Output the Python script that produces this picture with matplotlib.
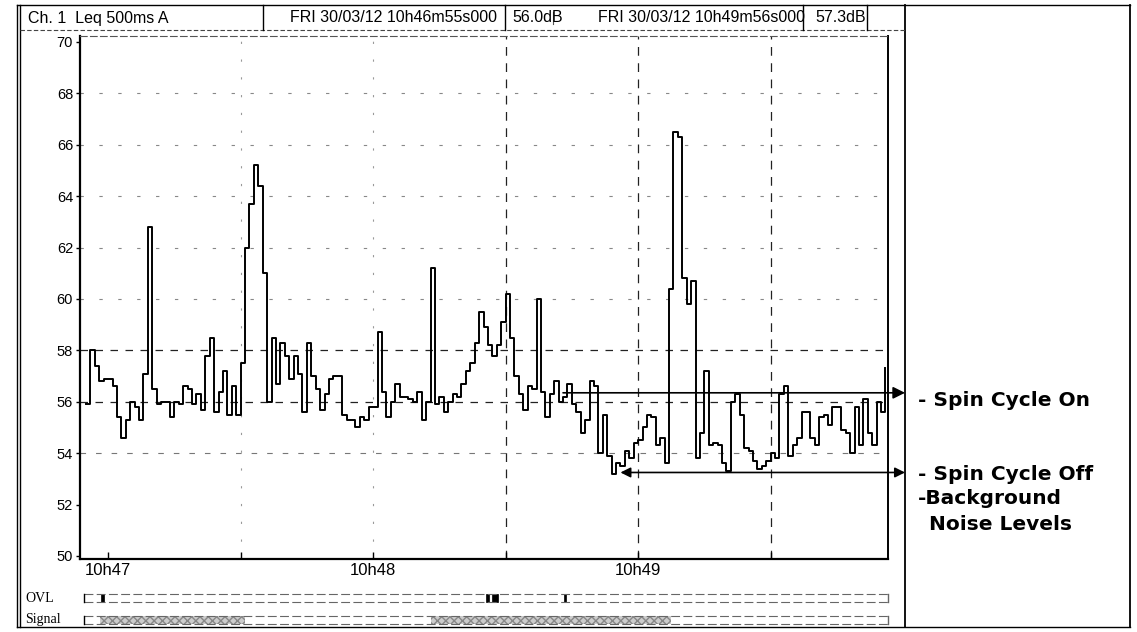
import matplotlib
matplotlib.use("Agg")
import matplotlib.pyplot as plt
from matplotlib.patches import Rectangle
from matplotlib.lines import Line2D
import numpy as np

# ---------------- data ----------------
# Leq 500ms A levels (dB), one value per second starting 10h46m55s
levels_db = [
    55.9, 58.0, 57.4, 56.8, 56.9, 56.9, 56.6, 55.4, 54.6, 55.3,
    56.0, 55.8, 55.3, 57.1, 62.8, 56.5, 55.9, 56.0, 56.0, 55.4,
    56.0, 55.9, 56.6, 56.5, 55.9, 56.3, 55.7, 57.8, 58.5, 55.6,
    56.4, 57.2, 55.5, 56.6, 55.5, 57.5, 62.0, 63.7, 65.2, 64.4,
    61.0, 56.0, 58.5, 56.7, 58.3, 57.8, 56.9, 57.8, 57.1, 55.6,
    58.3, 57.0, 56.5, 55.7, 56.3, 56.9, 57.0, 57.0, 55.5, 55.3,
    55.3, 55.0, 55.4, 55.3, 55.8, 55.8, 58.7, 56.4, 55.4, 56.0,
    56.7, 56.2, 56.2, 56.1, 56.0, 56.4, 55.3, 56.0, 61.2, 55.9,
    56.2, 55.6, 56.0, 56.3, 56.2, 56.7, 57.2, 57.5, 58.3, 59.5,
    58.9, 58.2, 57.8, 58.2, 59.1, 60.2, 58.5, 57.0, 56.3, 55.7,
    56.6, 56.5, 60.0, 56.4, 55.4, 56.3, 56.8, 56.0, 56.2, 56.7,
    55.9, 55.6, 54.8, 55.3, 56.8, 56.6, 54.0, 55.5, 53.9, 53.2,
    53.6, 53.5, 54.1, 53.8, 54.4, 54.5, 55.0, 55.5, 55.4, 54.3,
    54.6, 53.6, 60.4, 66.5, 66.3, 60.8, 59.8, 60.7, 53.8, 54.8,
    57.2, 54.3, 54.4, 54.3, 53.6, 53.3, 56.0, 56.3, 55.5, 54.2,
    54.1, 53.7, 53.4, 53.5, 53.7, 54.0, 53.8, 56.3, 56.6, 53.9,
    54.3, 54.6, 55.6, 55.6, 54.6, 54.3, 55.4, 55.5, 55.1, 55.8,
    55.8, 54.9, 54.8, 54.0, 55.8, 54.3, 56.1, 54.8, 54.3, 56.0,
    55.6, 57.3,
]
x_tick_secs = [5, 65, 125]                 # seconds after 10h46m55
x_tick_labels = ["10h47", "10h48", "10h49"]
y_ticks = [50, 52, 54, 56, 58, 60, 62, 64, 66, 68, 70]

spin_on_level = 56.35
spin_on_start = 108.0
spin_off_level = 53.25
spin_off_start = 121.0

header_texts = ["Ch. 1  Leq 500ms A", "FRI 30/03/12 10h46m55s000", "56.0dB",
                "FRI 30/03/12 10h49m56s000", "57.3dB"]
ovl_marks = [(3.4, 4.0), (90.6, 91.2), (92.0, 93.2), (108.2, 108.7)]   # seconds
signal_active = [(3.2, 36.0), (78.0, 132.5)]                            # seconds
annot_on = "- Spin Cycle On"
annot_off = ["- Spin Cycle Off", "-Background", " Noise Levels"]

# ---------------- figure ----------------
W, H = 1137, 632
fig = plt.figure(figsize=(W / 100, H / 100), dpi=100)
fig.patch.set_facecolor("white")

def fx(px):
    return px / W

def fy(py):
    return 1 - py / H

SANS = ["Liberation Sans", "DejaVu Sans"]
SERIF = ["Liberation Serif", "DejaVu Serif"]

# main axes
ax = fig.add_axes([fx(80), fy(559), fx(888) - fx(80), fy(36) - fy(559)])
t = np.arange(len(levels_db))
ax.step(t, levels_db, where="post", color="black", lw=1.4, zorder=3)

px_per_s = 4.417
x_left = (80 - 86) / px_per_s
x_right = (888 - 86) / px_per_s
ax.set_xlim(x_left, x_right)
ax.set_ylim(50 - 3 / 25.7, 70 + 6 / 25.7)

ax.set_yticks(y_ticks)
ax.set_yticklabels([str(v) for v in y_ticks], fontsize=10.5, family=SANS)
ax.set_xticks(x_tick_secs)
ax.set_xticklabels(x_tick_labels, fontsize=12, family=SANS)
ax.set_xticks([35, 95, 155], minor=True)
ax.tick_params(axis="y", direction="out", length=3, width=1, pad=2)
ax.tick_params(axis="x", which="both", direction="in", length=5, width=1, pad=3)

# grid lines
for v in [56, 58]:
    ax.axhline(v, color="#222222", lw=0.9, ls=(0, (6, 6)), zorder=1)
ax.axhline(54, color="#777777", lw=0.8, ls=(0, (5, 9)), zorder=1)
for v in [60, 62, 64, 66, 68]:
    ax.axhline(v, color="#888888", lw=0.8, ls=(0, (3, 14)), zorder=1)
for s in [95, 125, 155]:
    ax.axvline(s, color="#222222", lw=0.9, ls=(0, (7, 6)), zorder=1)
for s in [35, 65]:
    ax.axvline(s, color="#999999", lw=0.8, ls=(0, (2, 14)), zorder=1)

for side in ["left", "bottom"]:
    ax.spines[side].set_linewidth(1.6)
ax.spines["right"].set_linewidth(1.4)
ax.spines["top"].set_linestyle((0, (6, 3)))
ax.spines["top"].set_color("#555555")
ax.spines["top"].set_linewidth(0.8)

# spin cycle marker lines with arrowheads
t_arrow = (905 - 86) / px_per_s
ax.annotate("", xy=(t_arrow, spin_on_level), xytext=(spin_on_start, spin_on_level),
            arrowprops=dict(arrowstyle="-|>", color="black", lw=1.2,
                            mutation_scale=18, shrinkA=0, shrinkB=0),
            annotation_clip=False, zorder=4)
ax.annotate("", xy=(t_arrow, spin_off_level), xytext=(spin_off_start, spin_off_level),
            arrowprops=dict(arrowstyle="<|-|>", color="black", lw=1.2,
                            mutation_scale=15, shrinkA=0, shrinkB=0),
            annotation_clip=False, zorder=4)

# ---------------- frames ----------------
def hline(px0, px1, py, **kw):
    fig.add_artist(Line2D([fx(px0), fx(px1)], [fy(py), fy(py)], transform=fig.transFigure, **kw))

def vline(px, py0, py1, **kw):
    fig.add_artist(Line2D([fx(px), fx(px)], [fy(py0), fy(py1)], transform=fig.transFigure, **kw))

# outer frame
vline(17, 5, 627, color="black", lw=1.0)
vline(20, 5, 627, color="black", lw=1.0)
hline(17, 1130, 5, color="black", lw=1.0)
hline(17, 1130, 627, color="black", lw=1.0)
vline(905, 5, 627, color="black", lw=1.3)
vline(1130, 5, 627, color="black", lw=1.3)

# header
hline(20, 905, 30, color="#444444", lw=0.8, ls=(0, (4, 2)))
for px in [263, 505, 803, 867]:
    vline(px, 5, 30, color="black", lw=1.0)
vline(553, 12, 24, color="#555555", lw=0.8)
hdr_x = [28, 290, 512, 598, 815]
for txt, px in zip(header_texts, hdr_x):
    fig.text(fx(px), fy(18), txt, fontsize=11.5, family=SANS, va="center", ha="left")

# OVL / Signal rows
fig.text(fx(25), fy(598), "OVL", fontsize=10, family=SERIF, va="center", ha="left")
fig.text(fx(25), fy(620), "Signal", fontsize=10, family=SERIF, va="center", ha="left")

def t2px(s):
    return 86 + s * px_per_s

for row_y in [598, 620]:
    hline(84, 888, row_y - 4, color="#666666", lw=0.8, ls=(0, (8, 3)))
    hline(84, 888, row_y + 4, color="#666666", lw=0.8, ls=(0, (8, 3)))
    vline(84, row_y - 4, row_y + 4, color="black", lw=1.0)
    vline(888, row_y - 4, row_y + 4, color="#666666", lw=1.0)

for a, b in ovl_marks:
    p0, p1 = t2px(a), t2px(b)
    fig.add_artist(Rectangle((fx(p0), fy(602)), fx(p1) - fx(p0), fy(594) - fy(602),
                             transform=fig.transFigure, facecolor="black",
                             edgecolor="black", lw=0.5))
plt.rcParams["hatch.color"] = "#777777"
for a, b in signal_active:
    p0, p1 = t2px(a), t2px(b)
    fig.add_artist(Rectangle((fx(p0), fy(624)), fx(p1) - fx(p0), fy(616) - fy(624),
                             transform=fig.transFigure, facecolor="#cccccc",
                             edgecolor="#888888", hatch="xxxx", lw=0))

# right annotation text
BOLD = ["DejaVu Sans"]
fs = 14.5
fig.text(fx(918), fy(401), annot_on, fontsize=fs, family=BOLD, weight="bold",
         va="center", ha="left")
fig.text(fx(918), fy(474), annot_off[0], fontsize=fs, family=BOLD, weight="bold",
         va="center", ha="left")
fig.text(fx(918), fy(499), annot_off[1], fontsize=fs, family=BOLD, weight="bold",
         va="center", ha="left")
fig.text(fx(922), fy(524), annot_off[2], fontsize=fs, family=BOLD, weight="bold",
         va="center", ha="left")

fig.savefig("out.png", dpi=100, facecolor="white")
